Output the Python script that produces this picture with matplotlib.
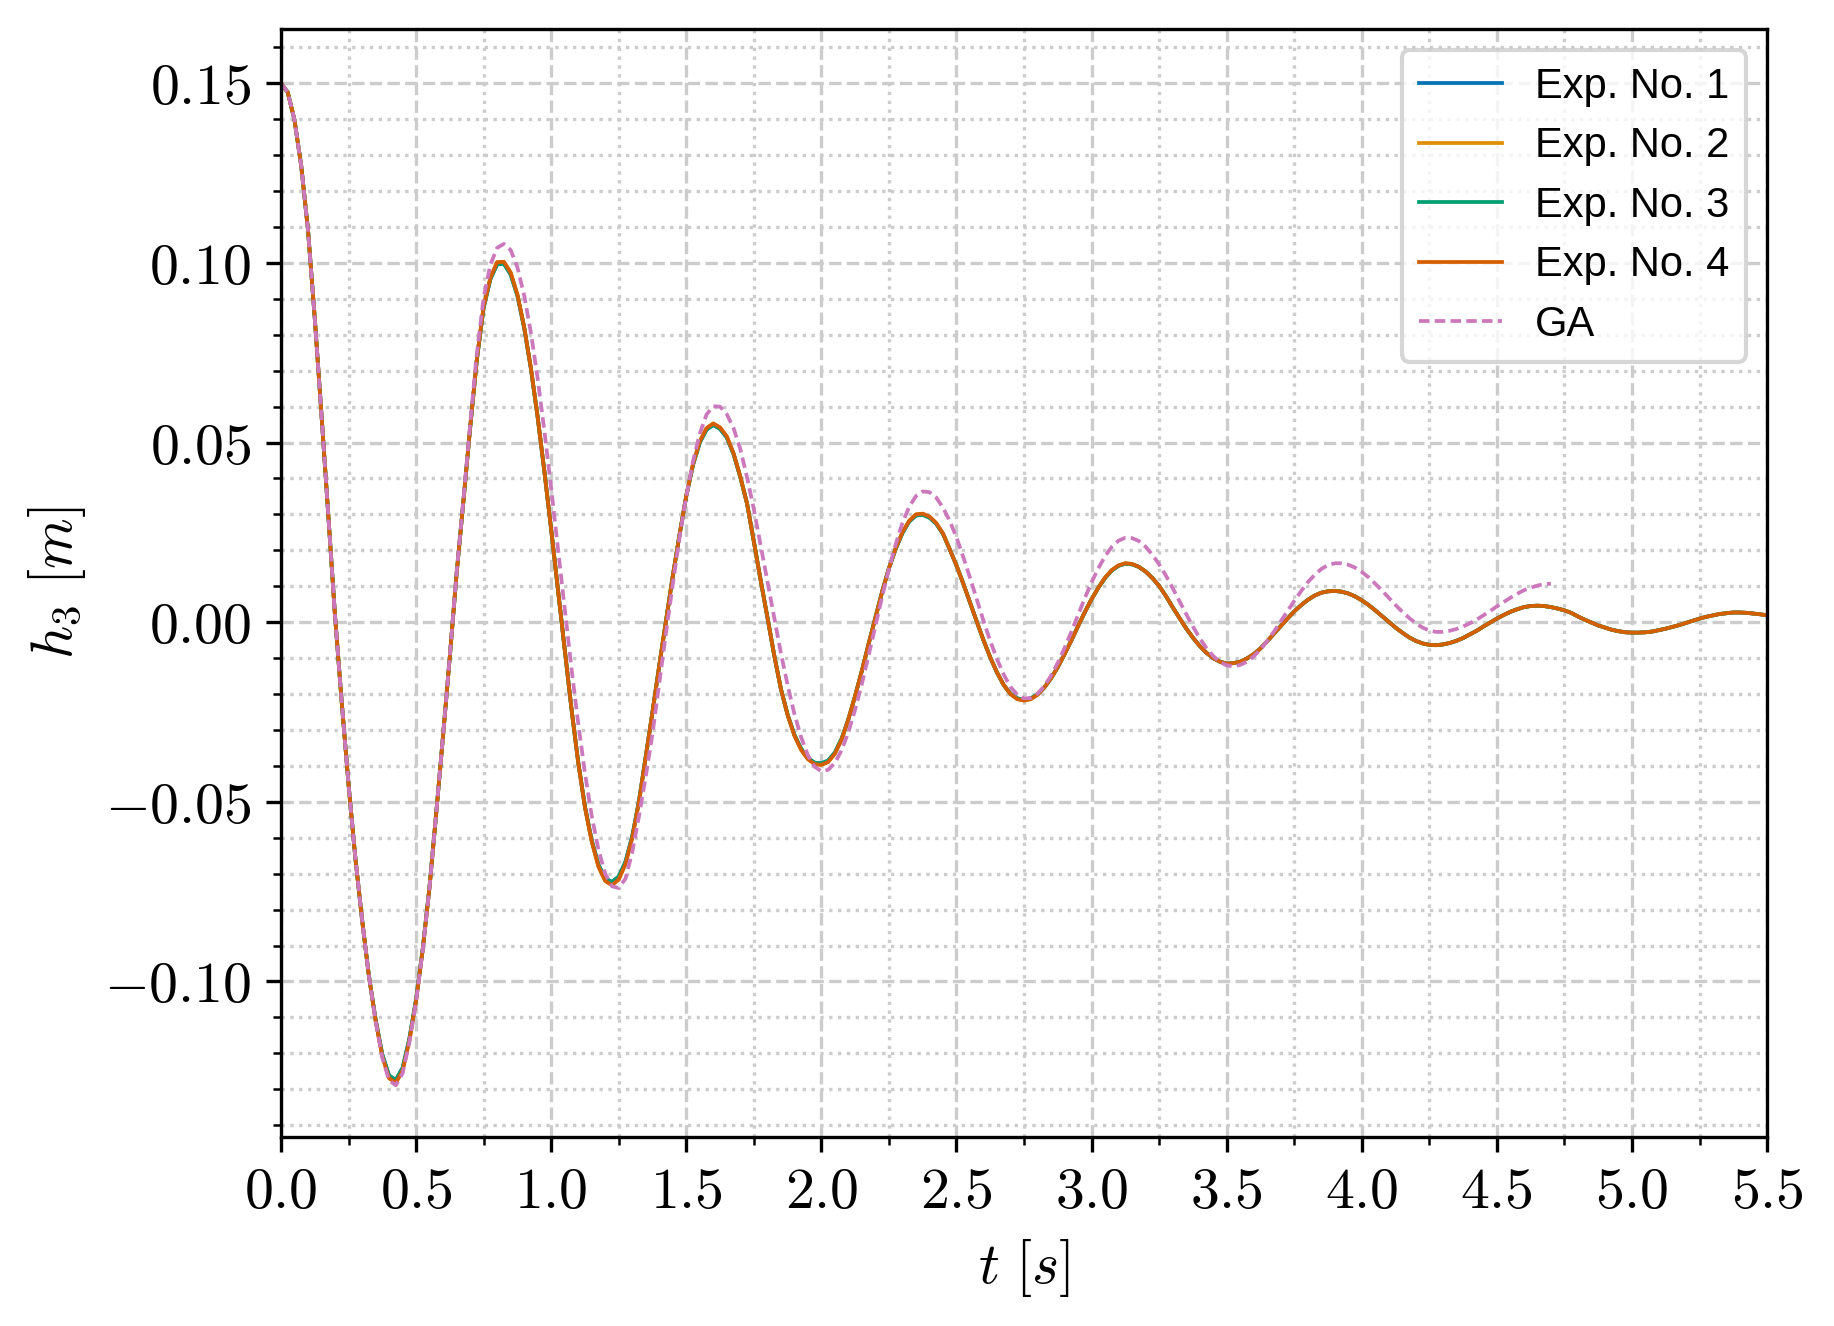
import numpy as np
import matplotlib
matplotlib.use("Agg")
import matplotlib.pyplot as plt
from matplotlib.ticker import MultipleLocator, FuncFormatter

plt.rcParams["mathtext.fontset"] = "cm"
plt.rcParams["font.family"] = ["Liberation Sans", "DejaVu Sans"]

# sampling grid used when reading the curves off the figure (s)
t = np.round(np.arange(0, 5.5 + 1e-9, 0.025), 3)

# h3 [m], Exp. No. 4 (drawn on top), one row = 0.2 s
exp4 = [
    0.1500, 0.1475, 0.1398, 0.1270, 0.1092, 0.0847, 0.0577, 0.0300,
    0.0018, -0.0224, -0.0451, -0.0654, -0.0827, -0.0982, -0.1107, -0.1208,
    -0.1269, -0.1282, -0.1248, -0.1165, -0.1053, -0.0909, -0.0736, -0.0528,
    -0.0315, -0.0095, 0.0135, 0.0335, 0.0540, 0.0732, 0.0878, 0.0958,
    0.1002, 0.1003, 0.0973, 0.0912, 0.0822, 0.0707, 0.0571, 0.0419,
    0.0258, 0.0091, -0.0075, -0.0240, -0.0390, -0.0515, -0.0610, -0.0680,
    -0.0720, -0.0732, -0.0716, -0.0673, -0.0600, -0.0500, -0.0375, -0.0250,
    -0.0121, 0.0003, 0.0128, 0.0243, 0.0352, 0.0440, 0.0503, 0.0540,
    0.0553, 0.0542, 0.0517, 0.0470, 0.0405, 0.0330, 0.0225, 0.0118,
    0.0015, -0.0090, -0.0185, -0.0258, -0.0315, -0.0355, -0.0381, -0.0395,
    -0.0397, -0.0389, -0.0366, -0.0326, -0.0270, -0.0205, -0.0135, -0.0060,
    0.0012, 0.0085, 0.0150, 0.0205, 0.0250, 0.0282, 0.0300, 0.0302,
    0.0294, 0.0276, 0.0247, 0.0203, 0.0158, 0.0108, 0.0055, 0.0002,
    -0.0050, -0.0098, -0.0140, -0.0175, -0.0200, -0.0214, -0.0218, -0.0214,
    -0.0202, -0.0182, -0.0156, -0.0125, -0.0089, -0.0051, -0.0011, 0.0028,
    0.0064, 0.0096, 0.0124, 0.0145, 0.0158, 0.0164, 0.0162, 0.0154,
    0.0141, 0.0123, 0.0101, 0.0073, 0.0042, 0.0012, -0.0017, -0.0043,
    -0.0066, -0.0085, -0.0100, -0.0110, -0.0115, -0.0114, -0.0110, -0.0101,
    -0.0089, -0.0073, -0.0053, -0.0032, -0.0011, 0.0010, 0.0030, 0.0047,
    0.0062, 0.0074, 0.0082, 0.0086, 0.0087, 0.0085, 0.0080, 0.0072,
    0.0061, 0.0048, 0.0033, 0.0017, 0.0001, -0.0015, -0.0029, -0.0042,
    -0.0052, -0.0059, -0.0063, -0.0064, -0.0062, -0.0058, -0.0052, -0.0044,
    -0.0034, -0.0024, -0.0012, -0.0001, 0.0010, 0.0020, 0.0029, 0.0036,
    0.0042, 0.0045, 0.0046, 0.0045, 0.0042, 0.0038, 0.0033, 0.0026,
    0.0016, 0.0007, -0.0001, -0.0009, -0.0015, -0.0021, -0.0025, -0.0028,
    -0.0029, -0.0029, -0.0028, -0.0026, -0.0022, -0.0018, -0.0013, -0.0008,
    -0.0002, 0.0004, 0.0010, 0.0015, 0.0019, 0.0023, 0.0025, 0.0027,
    0.0027, 0.0026, 0.0024, 0.0022, 0.0019,
]

# Exp. No. 3, a touch shallower at the first extrema
exp3 = [
    0.1500, 0.1475, 0.1398, 0.1270, 0.1092, 0.0847, 0.0577, 0.0300,
    0.0018, -0.0224, -0.0451, -0.0654, -0.0827, -0.0982, -0.1105, -0.1203,
    -0.1262, -0.1274, -0.1241, -0.1160, -0.1050, -0.0907, -0.0735, -0.0528,
    -0.0315, -0.0095, 0.0135, 0.0335, 0.0540, 0.0731, 0.0875, 0.0955,
    0.0996, 0.0998, 0.0968, 0.0909, 0.0820, 0.0706, 0.0571, 0.0419,
    0.0258, 0.0091, -0.0075, -0.0240, -0.0389, -0.0513, -0.0607, -0.0675,
    -0.0713, -0.0723, -0.0708, -0.0667, -0.0596, -0.0498, -0.0375, -0.0250,
    -0.0121, 0.0003, 0.0128, 0.0243, 0.0351, 0.0438, 0.0500, 0.0536,
    0.0549, 0.0538, 0.0514, 0.0468, 0.0404, 0.0330, 0.0225, 0.0118,
    0.0015, -0.0090, -0.0185, -0.0257, -0.0313, -0.0352, -0.0378, -0.0391,
    -0.0393, -0.0385, -0.0363, -0.0324, -0.0270, -0.0205, -0.0135, -0.0060,
    0.0012, 0.0085, 0.0150, 0.0204, 0.0248, 0.0280, 0.0297, 0.0299,
    0.0291, 0.0274, 0.0246, 0.0203, 0.0158, 0.0108, 0.0055, 0.0002,
    -0.0050, -0.0098, -0.0140, -0.0175, -0.0199, -0.0212, -0.0216, -0.0212,
    -0.0201, -0.0182, -0.0156, -0.0125, -0.0089, -0.0051, -0.0011, 0.0028,
    0.0064, 0.0096, 0.0123, 0.0144, 0.0157, 0.0163, 0.0161, 0.0154,
    0.0141, 0.0123, 0.0101, 0.0073, 0.0042, 0.0012, -0.0017, -0.0043,
    -0.0066, -0.0085, -0.0100, -0.0110, -0.0115, -0.0114, -0.0110, -0.0101,
    -0.0089, -0.0073, -0.0053, -0.0032, -0.0011, 0.0010, 0.0030, 0.0047,
    0.0062, 0.0074, 0.0082, 0.0086, 0.0087, 0.0085, 0.0080, 0.0072,
    0.0061, 0.0048, 0.0033, 0.0017, 0.0001, -0.0015, -0.0029, -0.0042,
    -0.0052, -0.0059, -0.0063, -0.0064, -0.0062, -0.0058, -0.0052, -0.0044,
    -0.0034, -0.0024, -0.0012, -0.0001, 0.0010, 0.0020, 0.0029, 0.0036,
    0.0042, 0.0045, 0.0046, 0.0045, 0.0042, 0.0038, 0.0033, 0.0026,
    0.0016, 0.0007, -0.0001, -0.0009, -0.0015, -0.0021, -0.0025, -0.0028,
    -0.0029, -0.0029, -0.0028, -0.0026, -0.0022, -0.0018, -0.0013, -0.0008,
    -0.0002, 0.0004, 0.0010, 0.0015, 0.0019, 0.0023, 0.0025, 0.0027,
    0.0027, 0.0026, 0.0024, 0.0022, 0.0019,
]

# No. 1 and No. 2 are hidden under No. 3 / No. 4 over the whole record
exp1 = list(exp3)
exp2 = list(exp4)

# GA model, ends at t = 4.7 s
ga = [
    0.1500, 0.1475, 0.1398, 0.1270, 0.1092, 0.0847, 0.0577, 0.0300,
    0.0018, -0.0224, -0.0451, -0.0654, -0.0827, -0.0982, -0.1110, -0.1212,
    -0.1275, -0.1289, -0.1256, -0.1170, -0.1056, -0.0911, -0.0737, -0.0528,
    -0.0314, -0.0093, 0.0138, 0.0340, 0.0550, 0.0748, 0.0903, 0.0995,
    0.1042, 0.1053, 0.1036, 0.0988, 0.0910, 0.0806, 0.0678, 0.0532,
    0.0373, 0.0206, 0.0037, -0.0128, -0.0281, -0.0420, -0.0539, -0.0633,
    -0.0700, -0.0735, -0.0740, -0.0714, -0.0640, -0.0540, -0.0430, -0.0310,
    -0.0170, -0.0030, 0.0105, 0.0235, 0.0350, 0.0448, 0.0525, 0.0578,
    0.0601, 0.0600, 0.0579, 0.0540, 0.0482, 0.0403, 0.0315, 0.0215,
    0.0115, 0.0015, -0.0085, -0.0175, -0.0255, -0.0320, -0.0370, -0.0402,
    -0.0415, -0.0411, -0.0392, -0.0356, -0.0306, -0.0243, -0.0171, -0.0092,
    -0.0010, 0.0071, 0.0148, 0.0217, 0.0276, 0.0321, 0.0351, 0.0364,
    0.0362, 0.0347, 0.0319, 0.0282, 0.0236, 0.0182, 0.0124, 0.0064,
    0.0004, -0.0052, -0.0103, -0.0146, -0.0180, -0.0202, -0.0212, -0.0211,
    -0.0199, -0.0178, -0.0149, -0.0113, -0.0072, -0.0027, 0.0020, 0.0067,
    0.0111, 0.0150, 0.0184, 0.0210, 0.0227, 0.0235, 0.0234, 0.0226,
    0.0210, 0.0188, 0.0161, 0.0130, 0.0095, 0.0059, 0.0023, -0.0012,
    -0.0044, -0.0072, -0.0094, -0.0111, -0.0120, -0.0123, -0.0119, -0.0110,
    -0.0095, -0.0076, -0.0052, -0.0026, 0.0002, 0.0031, 0.0059, 0.0086,
    0.0111, 0.0131, 0.0148, 0.0159, 0.0164, 0.0164, 0.0160, 0.0152,
    0.0140, 0.0125, 0.0107, 0.0088, 0.0068, 0.0048, 0.0029, 0.0012,
    -0.0003, -0.0015, -0.0023, -0.0027, -0.0027, -0.0024, -0.0019, -0.0012,
    -0.0003, 0.0007, 0.0019, 0.0031, 0.0044, 0.0056, 0.0068, 0.0079,
    0.0089, 0.0096, 0.0102, 0.0106, 0.0107,
]

labels = ["Exp. No. 1", "Exp. No. 2", "Exp. No. 3", "Exp. No. 4", "GA"]
colors = ["#0173b2", "#de8f05", "#029e73", "#d55e00", "#cc78bc"]


def fmt(decimals):
    def f(v, pos):
        if abs(v) < 1e-9:
            v = 0.0
        return "$%.*f$" % (decimals, v)
    return FuncFormatter(f)


fig = plt.figure(figsize=(1834 / 300, 1326 / 300), dpi=300)
ax = fig.add_axes([0.1532, 0.1425, 0.8103, 0.8356])

for y, lab, c in zip([exp1, exp2, exp3, exp4], labels[:4], colors[:4]):
    ax.plot(t, y, color=c, lw=0.9, label=lab)
ax.plot(t[:len(ga)], ga, color=colors[4], lw=0.9, ls=(0, (2.8, 1.4)), label=labels[4])

ax.set_xlim(0, 5.5)
ax.set_ylim(-0.1433, 0.1651)
ax.xaxis.set_major_locator(MultipleLocator(0.5))
ax.xaxis.set_minor_locator(MultipleLocator(0.25))
ax.yaxis.set_major_locator(MultipleLocator(0.05))
ax.yaxis.set_minor_locator(MultipleLocator(0.01))
ax.xaxis.set_major_formatter(fmt(1))
ax.yaxis.set_major_formatter(fmt(2))
ax.tick_params(labelsize=13.9)

ax.grid(which="major", ls="--", color="0.8", lw=0.8)
ax.grid(which="minor", ls=":", color="0.8", lw=0.8)

ax.set_xlabel(r"$t\ [s]$", fontsize=13.9)
ax.set_ylabel(r"$h_3\ [m]$", fontsize=13.9)

ax.legend(loc="upper right", fontsize=10, labelspacing=0.47)

fig.savefig("out.png", dpi=300)
